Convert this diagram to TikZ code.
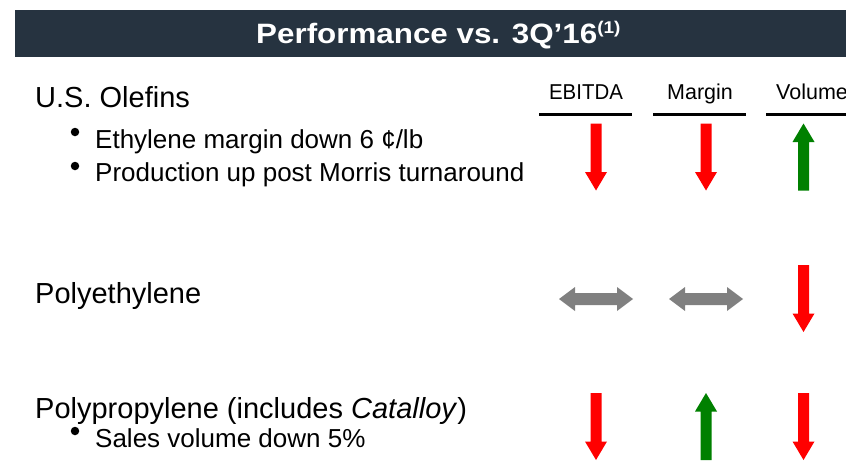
\documentclass[tikz,border=0pt]{standalone}
\usepackage{fontspec}
\setmainfont{Liberation Sans}
\definecolor{barcol}{HTML}{263340}
\definecolor{upgreen}{HTML}{008000}
\definecolor{dnred}{HTML}{FF0000}
\definecolor{flatgray}{HTML}{808080}
\tikzset{
  hdr/.style={anchor=base west, inner sep=0pt, font=\fontsize{29}{32}\selectfont},
  item/.style={anchor=base west, inner sep=0pt, font=\fontsize{26}{30}\selectfont},
  bul/.style={circle, fill=black, inner sep=0pt, minimum size=8.5pt},
  colhdr/.style={inner sep=0pt, font=\fontsize{21.5}{25}\selectfont},
  colrule/.style={line width=3pt, black},
  dnarrow/.pic={\fill[dnred] (-5.5,0) -- (5.5,0) -- (5.5,48.5) -- (11,48.5) -- (0,67) -- (-11,48.5) -- (-5.5,48.5) -- cycle;},
  uparrow/.pic={\fill[upgreen] (-5.5,67) -- (5.5,67) -- (5.5,18.5) -- (11,18.5) -- (0,0) -- (-11,18.5) -- (-5.5,18.5) -- cycle;},
  flatarrow/.pic={\fill[flatgray] (-37,0) -- (-21,-12) -- (-21,-6) -- (21,-6) -- (21,-12) -- (37,0) -- (21,12) -- (21,6) -- (-21,6) -- (-21,12) -- cycle;}
}
\begin{document}
\begin{tikzpicture}[x=1pt,y=-1pt]
\useasboundingbox (0,0) rectangle (846,461);
\clip (0,0) rectangle (846,461);
% title bar
\fill[barcol] (15,10) rectangle (846,57);
\node[anchor=base west, inner sep=0pt, text=white, font=\fontsize{28}{32}\selectfont\bfseries] (title) at (256,43)
  {\scalebox{1.12}[1]{Performance vs. 3Q’16\raisebox{10pt}{\fontsize{17}{20}\selectfont(1)}}};
% column headers
\node[colhdr, anchor=base] (hE) at (586,99.5) {\scalebox{0.95}[1]{EBITDA}};
\node[colhdr, anchor=base] (hM) at (700,99.5) {Margin};
\node[colhdr, anchor=base west] (hV) at (776,99.5) {Volume};
\draw[colrule] (539,114) -- (632,114);
\draw[colrule] (653,114) -- (746,114);
\draw[colrule] (766,114) -- (846,114);
% left texts
\node[hdr] (olef) at (35,107) {U.S. Olefins};
\node[bul] (b1) at (75,132) {};
\node[item] (t1) at (95,148) {Ethylene margin down 6 ¢/lb};
\node[bul] (b2) at (75,166) {};
\node[item] (t2) at (95,181.5) {Production up post Morris turnaround};
\node[hdr] (poly) at (35,303) {Polyethylene};
\node[hdr] (pp) at (35,418) {Polypropylene (includes \textit{Catalloy})};
\node[bul] (b3) at (75,431) {};
\node[item] (t3) at (95,447) {Sales volume down 5\%};
% row 1
\pic (r1e) at (596,123.5) {dnarrow};
\pic (r1m) at (706,123.5) {dnarrow};
\pic (r1v) at (803.5,123.5) {uparrow};
% row 2
\pic (r2e) at (596,299) {flatarrow};
\pic (r2m) at (706,299) {flatarrow};
\pic (r2v) at (803.5,265) {dnarrow};
% row 3
\pic (r3e) at (596,393) {dnarrow};
\pic (r3m) at (706,393) {uparrow};
\pic (r3v) at (803.5,393) {dnarrow};
\end{tikzpicture}
\end{document}
